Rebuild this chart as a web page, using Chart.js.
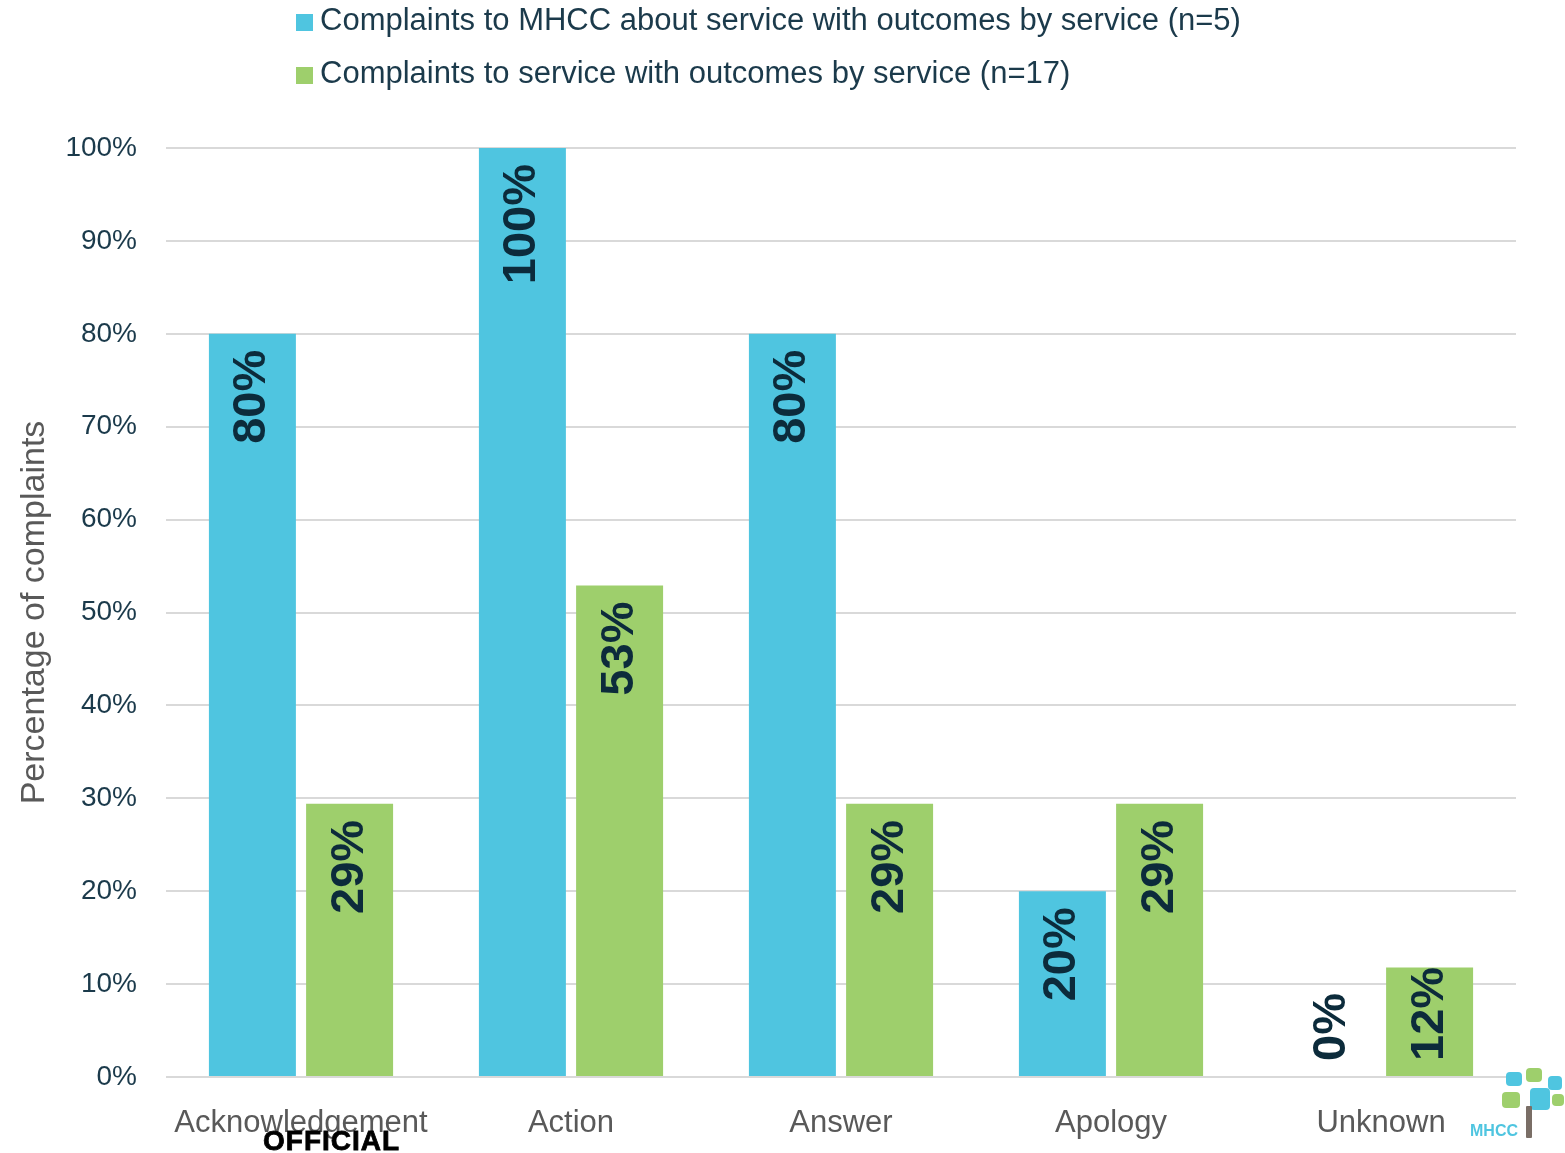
<!DOCTYPE html>
<html>
<head>
<meta charset="utf-8">
<script src="https://cdn.jsdelivr.net/npm/chart.js@4"></script>
<style>
  body { margin: 0; background: #fff; font-family: "Liberation Sans", Arial, sans-serif; }
  #wrap { position: relative; width: 1565px; height: 1153px; }
  #legend { position: absolute; left: 296px; top: 0; color: #1b3a4b; font-size: 31px; }
  .row { position: absolute; left: 0; white-space: nowrap; height: 36px; line-height: 36px; }
  .sw { display: inline-block; width: 17px; height: 17px; margin-right: 7px; vertical-align: -1px; }
  #official { position: absolute; left: 263px; top: 1125px; font-size: 28px; font-weight: 900; letter-spacing: 1px; color: #000; -webkit-text-stroke: 0.8px #000; }
  #logo { position: absolute; left: 1468px; top: 1068px; width: 97px; height: 85px; }
  #logo .b { position: absolute; border-radius: 4px; }
  #logo .t { position: absolute; left: 2px; top: 54px; font-size: 16px; font-weight: bold; color: #4fc5e0; }
</style>
</head>
<body>
<div id="wrap">
  <canvas id="chart" width="1565" height="1153"></canvas>
  <div id="legend"></div>
  <div id="official">OFFICIAL</div>
  <div id="logo">
    <div class="b" style="left:38px;top:4px;width:16px;height:14px;background:#4fc5e0"></div>
    <div class="b" style="left:58px;top:0px;width:16px;height:14px;background:#9ecf6c"></div>
    <div class="b" style="left:80px;top:8px;width:14px;height:14px;background:#4fc5e0"></div>
    <div class="b" style="left:34px;top:24px;width:18px;height:16px;background:#9ecf6c"></div>
    <div class="b" style="left:62px;top:20px;width:20px;height:22px;background:#4fc5e0"></div>
    <div class="b" style="left:84px;top:26px;width:12px;height:12px;background:#9ecf6c"></div>
    <div class="b" style="left:58px;top:38px;width:6px;height:32px;background:#7a6e66;border-radius:1px"></div>
    <div class="t">MHCC</div>
  </div>
</div>
<script>
const categories = ['Acknowledgement', 'Action', 'Answer', 'Apology', 'Unknown'];
const seriesNames = [
  'Complaints to MHCC about service with outcomes by service (n=5)',
  'Complaints to service with outcomes by service (n=17)'
];
const mhccValues = [80, 100, 80, 20, 0];
const serviceValues = [29.4, 52.9, 29.4, 29.4, 11.8];
const colors = ['#4fc5e0', '#9ecf6c'];

// legend on the page, two left-aligned rows
const legendEl = document.getElementById('legend');
seriesNames.forEach((name, i) => {
  const row = document.createElement('div');
  row.className = 'row';
  row.style.top = (2 + i * 53) + 'px';
  row.innerHTML = '<span class="sw" style="background:' + colors[i] + '"></span>' + name;
  legendEl.appendChild(row);
});

// rotated value labels inside the top of each bar
const barLabels = {
  id: 'barLabels',
  afterDatasetsDraw(chart) {
    const ctx = chart.ctx;
    const base = chart.scales.y.getPixelForValue(0);
    chart.data.datasets.forEach((ds, i) => {
      const meta = chart.getDatasetMeta(i);
      meta.data.forEach((bar, j) => {
        const text = Math.round(ds.data[j]) + '%';
        ctx.save();
        ctx.font = 'bold 47px "Liberation Sans", Arial, sans-serif';
        const w = ctx.measureText(text).width;
        const top = Math.min(bar.y + 16, base - 16 - w);
        ctx.translate(bar.x, top);
        ctx.rotate(-Math.PI / 2);
        ctx.textAlign = 'right';
        ctx.textBaseline = 'middle';
        ctx.fillStyle = '#0c2b3b';
        ctx.fillText(text, 0, 0);
        ctx.restore();
      });
    });
  }
};

new Chart(document.getElementById('chart').getContext('2d'), {
  type: 'bar',
  data: {
    labels: categories,
    datasets: [
      { label: seriesNames[0], data: mhccValues, backgroundColor: colors[0] },
      { label: seriesNames[1], data: serviceValues, backgroundColor: colors[1] }
    ]
  },
  options: {
    responsive: false,
    animation: false,
    devicePixelRatio: 1,
    datasets: { bar: { categoryPercentage: 0.72, barPercentage: 0.895 } },
    layout: { padding: { top: 148, right: 49, bottom: 0, left: 0 } },
    plugins: {
      legend: { display: false },
      tooltip: { enabled: false }
    },
    scales: {
      x: {
        grid: { display: false },
        border: { display: false },
        ticks: {
          color: '#595959',
          padding: 20,
          font: { family: '"Liberation Sans", Arial, sans-serif', size: 31 }
        },
        afterFit(scale) { scale.height = 76; }
      },
      y: {
        min: 0,
        max: 100,
        grid: { color: '#d9d9d9', lineWidth: 2, drawTicks: false },
        border: { display: false },
        ticks: {
          stepSize: 10,
          padding: 29,
          color: '#1b3a4b',
          font: { family: '"Liberation Sans", Arial, sans-serif', size: 28 },
          callback: v => v + '%'
        },
        title: {
          display: true,
          text: 'Percentage of complaints',
          color: '#595959',
          padding: { top: 14, bottom: 0 },
          font: { family: '"Liberation Sans", Arial, sans-serif', size: 34 }
        },
        afterFit(scale) { scale.width = 166; }
      }
    }
  },
  plugins: [barLabels]
});
</script>
</body>
</html>
